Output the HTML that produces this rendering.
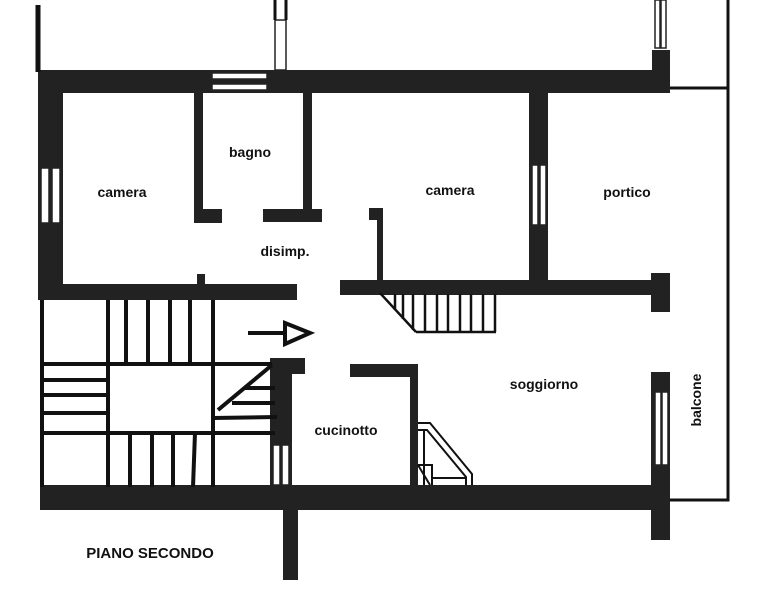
<!DOCTYPE html>
<html><head><meta charset="utf-8"><style>
html,body{margin:0;padding:0;background:#fff;}
svg{display:block}
text{font-family:"Liberation Sans",sans-serif;font-weight:bold;fill:#111}
</style></head><body>
<svg width="760" height="600" viewBox="0 0 760 600" xmlns="http://www.w3.org/2000/svg">
<g fill="#222">
<!-- top wall -->
<rect x="38" y="70" width="632" height="23"/>
<!-- left wall -->
<rect x="38" y="70" width="25" height="230"/>
<!-- camera bottom wall -->
<rect x="38" y="284" width="259" height="16"/>
<rect x="340" y="280" width="330" height="15"/>
<rect x="651" y="273" width="19" height="39"/>
<!-- bagno walls -->
<rect x="194" y="93" width="9" height="130"/>
<rect x="194" y="209" width="28" height="14"/>
<rect x="303" y="93" width="9" height="125"/>
<rect x="263" y="209" width="59" height="13"/>
<!-- camera2 left -->
<rect x="369" y="208" width="14" height="12"/>
<rect x="377" y="208" width="6" height="74"/>
<!-- camera/portico wall -->
<rect x="529" y="93" width="19" height="187"/>
<!-- portico top stub -->
<rect x="652" y="50" width="18" height="43"/>
<!-- soggiorno right wall -->
<rect x="651" y="372" width="19" height="168"/>
<!-- bottom wall -->
<rect x="40" y="485" width="630" height="25"/>
<rect x="283" y="510" width="15" height="70"/>
<!-- stair wall -->
<rect x="270" y="358" width="22" height="127"/>
<rect x="270" y="358" width="35" height="16"/>
<!-- cucinotto -->
<rect x="350" y="364" width="68" height="13"/>
<rect x="410" y="364" width="8" height="121"/>
<!-- small dot -->
<rect x="197" y="274" width="8" height="12"/>
</g>
<!-- windows -->
<g fill="#fff" stroke="#222" stroke-width="1.5">
<rect x="41" y="168" width="8" height="55"/><rect x="52" y="168" width="8" height="55"/>
<rect x="532" y="165" width="6" height="60"/><rect x="540" y="165" width="6" height="60"/>
<rect x="655" y="392" width="6" height="73"/><rect x="662" y="392" width="6" height="73"/>
<rect x="273" y="445" width="7" height="40"/><rect x="282" y="445" width="7" height="40"/>
<rect x="275" y="20" width="11" height="50"/>
<rect x="655" y="0" width="5" height="48"/><rect x="661" y="0" width="5" height="48"/>
<rect x="212" y="73" width="55" height="6"/><rect x="212" y="84" width="55" height="6"/>
</g>
<g stroke="#111" fill="none">
<line x1="38" y1="5" x2="38" y2="72" stroke-width="5"/>
<line x1="275" y1="0" x2="275" y2="20" stroke-width="3"/>
<line x1="286" y1="0" x2="286" y2="20" stroke-width="3"/>
<!-- balcone -->
<polyline points="670,88 728,88 728,500 670,500" stroke-width="3"/>
<line x1="728" y1="0" x2="728" y2="88" stroke-width="3"/>
<!-- stairs -->
<g stroke-width="4">
<line x1="42" y1="300" x2="42" y2="487"/>
<line x1="42" y1="364" x2="272" y2="364"/>
<line x1="42" y1="433" x2="275" y2="433"/>
<line x1="108" y1="300" x2="108" y2="487"/>
<line x1="213" y1="300" x2="213" y2="487"/>
<line x1="126" y1="300" x2="126" y2="364"/><line x1="148" y1="300" x2="148" y2="364"/>
<line x1="170" y1="300" x2="170" y2="364"/><line x1="190" y1="300" x2="190" y2="364"/>
<line x1="130" y1="433" x2="130" y2="487"/><line x1="152" y1="433" x2="152" y2="487"/>
<line x1="173" y1="433" x2="173" y2="487"/><line x1="195" y1="433" x2="193" y2="487"/>
<line x1="42" y1="380" x2="108" y2="380"/><line x1="42" y1="395" x2="108" y2="395"/>
<line x1="42" y1="413" x2="108" y2="413"/>
<line x1="218" y1="410" x2="272" y2="365"/>
<line x1="245" y1="388" x2="275" y2="388"/><line x1="232" y1="403" x2="275" y2="403"/>
<line x1="213" y1="418" x2="277" y2="417"/>
<!-- arrow -->
<line x1="248" y1="333" x2="287" y2="333"/>
<polygon points="285,323 310,333 285,344"/>
</g>
<!-- camera2 stairs -->
<g stroke-width="2.5">
<line x1="380" y1="293" x2="416" y2="332"/>
<line x1="416" y1="332" x2="496" y2="332"/>
<line x1="395" y1="294" x2="395" y2="310"/><line x1="403" y1="294" x2="403" y2="319"/>
<line x1="413" y1="294" x2="413" y2="330"/><line x1="425" y1="294" x2="425" y2="332"/>
<line x1="437" y1="294" x2="437" y2="332"/><line x1="448" y1="294" x2="448" y2="332"/>
<line x1="460" y1="294" x2="460" y2="332"/><line x1="471" y1="294" x2="471" y2="332"/>
<line x1="483" y1="294" x2="483" y2="332"/><line x1="495" y1="294" x2="495" y2="332"/>
</g>
<!-- cucinotto small stair -->
<g stroke-width="2">
<polyline points="418,423 430,423 472,474 472,485"/>
<polyline points="418,430 427,430 466,477 466,485"/>
<line x1="424" y1="430" x2="424" y2="485"/>
<polyline points="418,465 432,465 432,485"/>
<line x1="418" y1="465" x2="430" y2="485"/>
<line x1="432" y1="478" x2="466" y2="478"/>
</g>
</g>
<g font-size="14">
<text x="122" y="197" text-anchor="middle">camera</text>
<text x="250" y="157" text-anchor="middle">bagno</text>
<text x="285" y="256" text-anchor="middle">disimp.</text>
<text x="450" y="195" text-anchor="middle">camera</text>
<text x="627" y="197" text-anchor="middle">portico</text>
<text x="544" y="389" text-anchor="middle">soggiorno</text>
<text x="346" y="435" text-anchor="middle">cucinotto</text>
<text transform="translate(701,400) rotate(-90)" text-anchor="middle">balcone</text>
<text x="150" y="558" text-anchor="middle" font-size="15">PIANO SECONDO</text>
</g>
</svg>
</body></html>
